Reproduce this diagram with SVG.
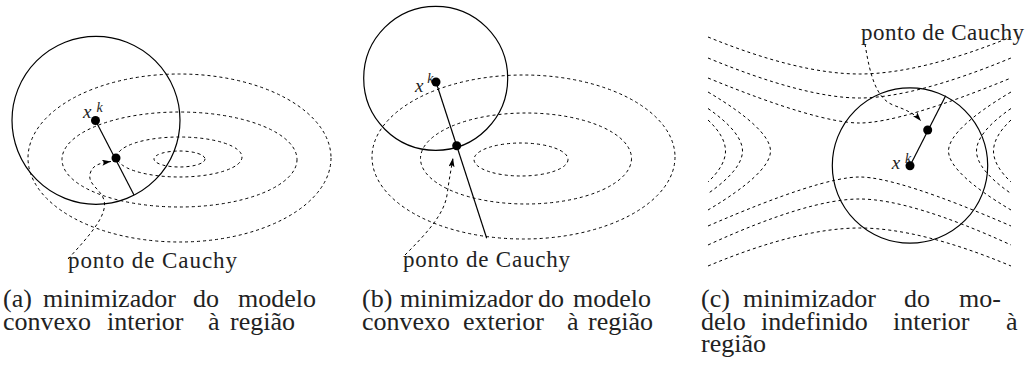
<svg xmlns="http://www.w3.org/2000/svg" width="1031" height="379" viewBox="0 0 1031 379">
<defs>
<marker id="ah" markerWidth="10" markerHeight="6" refX="9" refY="3" orient="auto" markerUnits="userSpaceOnUse"><path d="M0,0 L9,3 L0,6 L2,3 Z" fill="#000" stroke="none"/></marker>
<style>
.trust{fill:none;stroke:#000;stroke-width:1.2}
.lvl{fill:none;stroke:#000;stroke-width:1;stroke-dasharray:3 3}
.step{fill:none;stroke:#000;stroke-width:1.2}
.ptr{fill:none;stroke:#000;stroke-width:1;stroke-dasharray:3 3;marker-end:url(#ah)}
.dot{fill:#000}
.lbl{font-size:23px;fill:#222}
.cap{font-size:26px;fill:#222}
.math{font-style:italic;fill:#222}
</style>
</defs>
<rect width="1031" height="379" fill="#fff"/>

<!-- Panel (a) -->
<g id="a-levels">
<ellipse cx="179.5" cy="158" rx="151.5" ry="84" class="lvl"/>
<ellipse cx="179.5" cy="159.5" rx="117.5" ry="47.5" class="lvl"/>
<ellipse cx="179.5" cy="157" rx="62.5" ry="20" class="lvl"/>
<ellipse cx="179.5" cy="159" rx="25.5" ry="8" class="lvl"/>
</g>
<g id="a-region"><circle cx="96" cy="120.3" r="84" class="trust"/></g>
<g id="a-xk-label" font-family="Liberation Serif, Times New Roman, serif"><text class="math" x="83" y="117.5" font-size="19">x</text><text class="math" x="96.5" y="111.5" font-size="14">k</text></g>
<g id="a-cauchy-label" font-family="Liberation Serif, Times New Roman, serif"><text class="lbl" x="68" y="268" textLength="169" lengthAdjust="spacing">ponto de Cauchy</text></g>

<!-- Panel (b) -->
<g id="b-levels">
<ellipse cx="523.5" cy="157" rx="151.5" ry="82" class="lvl"/>
<ellipse cx="526" cy="158.5" rx="105.5" ry="45.5" class="lvl"/>
<ellipse cx="521" cy="159.5" rx="47" ry="16.5" class="lvl"/>
</g>
<g id="b-region"><circle cx="435.7" cy="78.3" r="72" class="trust"/></g>
<g id="b-xk-label" font-family="Liberation Serif, Times New Roman, serif"><text class="math" x="415" y="91.7" font-size="19">x</text><text class="math" x="427.3" y="83.3" font-size="14">k</text></g>
<g id="b-cauchy-label" font-family="Liberation Serif, Times New Roman, serif"><text class="lbl" x="403" y="266.5" textLength="167" lengthAdjust="spacing">ponto de Cauchy</text></g>

<!-- Panel (c) -->
<g id="c-levels">
<path class="lvl" d="M708,37 C767.7,61.4 819.2,74 859.5,74 C899.8,74 951.3,61.4 1011,37"/>
<path class="lvl" d="M708,58 C771.7,84.4 823.2,98 859.5,98 C895.8,98 947.3,84.4 1011,58"/>
<path class="lvl" d="M708,78 C780.3,107.7 831.8,123 859.5,123 C887.2,123 938.7,107.7 1011,78"/>
<path class="lvl" d="M708,226 C782.3,193.7 833.8,177 859.5,177 C885.2,177 936.7,193.7 1011,226"/>
<path class="lvl" d="M708,245 C774.2,214.6 825.7,199 859.5,199 C893.3,199 944.8,214.6 1011,245"/>
<path class="lvl" d="M708,266 C767.9,240.9 819.4,228 859.5,228 C899.6,228 951.1,240.9 1011,266"/>
<path class="lvl" d="M708,92 C749.3,116.5 770.5,136.6 770.5,151 C770.5,165.4 749.3,185.5 708,210"/>
<path class="lvl" d="M708,108.5 C730.8,124.3 742.5,138.8 742.5,151 C742.5,163.2 730.8,177.7 708,193.5"/>
<path class="lvl" d="M708,120 C719.6,130.9 725.5,141.4 725.5,151 C725.5,160.6 719.6,171.1 708,182"/>
<path class="lvl" d="M1011,92 C969.7,116.5 948.5,136.6 948.5,151 C948.5,165.4 969.7,185.5 1011,210"/>
<path class="lvl" d="M1011,108.5 C988.2,124.3 976.5,138.8 976.5,151 C976.5,163.2 988.2,177.7 1011,193.5"/>
<path class="lvl" d="M1011,120 C999.4,130.9 993.5,141.4 993.5,151 C993.5,160.6 999.4,171.1 1011,182"/>
</g>
<g id="c-region"><circle cx="910" cy="165.5" r="77.7" class="trust"/></g>
<g id="c-xk-label" font-family="Liberation Serif, Times New Roman, serif"><text class="math" x="891.7" y="169.3" font-size="19">x</text><text class="math" x="905" y="163.3" font-size="14">k</text></g>
<g id="c-cauchy-label" font-family="Liberation Serif, Times New Roman, serif"><text class="lbl" x="861" y="40" textLength="163" lengthAdjust="spacing">ponto de Cauchy</text></g>

<!-- Connectors -->
<g id="connectors">
<path class="step" d="M95.5,120.5 L134,195"/>
<path class="ptr" d="M68,259 C90,235 108,215 104,200 C100,188 88,185 90,174 C92,165 100,163 111,161.5"/>
<path class="step" d="M436,82 L486.7,238.3"/>
<path class="ptr" d="M405,255 C425,235 444,215 447,195 C449,180 451,170 453,158"/>
<path class="step" d="M910,165.7 L945.7,95.7"/>
<path class="ptr" d="M865,44 C870,75 876,98 893,105 C906,110 914,113 921,121"/>
</g>

<!-- Points -->
<g id="a-xk"><circle class="dot" cx="95.5" cy="120.5" r="4.5"/></g>
<g id="a-cauchy"><circle class="dot" cx="116" cy="158" r="4.5"/></g>
<g id="b-xk"><circle class="dot" cx="436" cy="82" r="4.5"/></g>
<g id="b-cauchy"><circle class="dot" cx="456.7" cy="145.7" r="4.5"/></g>
<g id="c-xk"><circle class="dot" cx="910" cy="165.7" r="4.5"/></g>
<g id="c-cauchy"><circle class="dot" cx="927.7" cy="130" r="4.5"/></g>

<!-- Captions -->
<g id="caption-a" font-family="Liberation Serif, Times New Roman, serif">
<text class="cap" y="307"><tspan x="3">(a)</tspan><tspan x="43">minimizador</tspan><tspan x="193">do</tspan><tspan x="238">modelo</tspan></text>
<text class="cap" y="330"><tspan x="3">convexo</tspan><tspan x="107">interior</tspan><tspan x="208">à</tspan><tspan x="230">região</tspan></text>
</g>
<g id="caption-b" font-family="Liberation Serif, Times New Roman, serif">
<text class="cap" y="307"><tspan x="362">(b)</tspan><tspan x="400">minimizador</tspan><tspan x="538">do</tspan><tspan x="573">modelo</tspan></text>
<text class="cap" y="330"><tspan x="362">convexo</tspan><tspan x="463">exterior</tspan><tspan x="567">à</tspan><tspan x="588">região</tspan></text>
</g>
<g id="caption-c" font-family="Liberation Serif, Times New Roman, serif">
<text class="cap" y="307"><tspan x="701">(c)</tspan><tspan x="743">minimizador</tspan><tspan x="904">do</tspan><tspan x="959">mo-</tspan></text>
<text class="cap" y="330"><tspan x="701">delo</tspan><tspan x="761">indefinido</tspan><tspan x="893">interior</tspan><tspan x="1006">à</tspan></text>
<text class="cap" y="352"><tspan x="701">região</tspan></text>
</g>
</svg>
